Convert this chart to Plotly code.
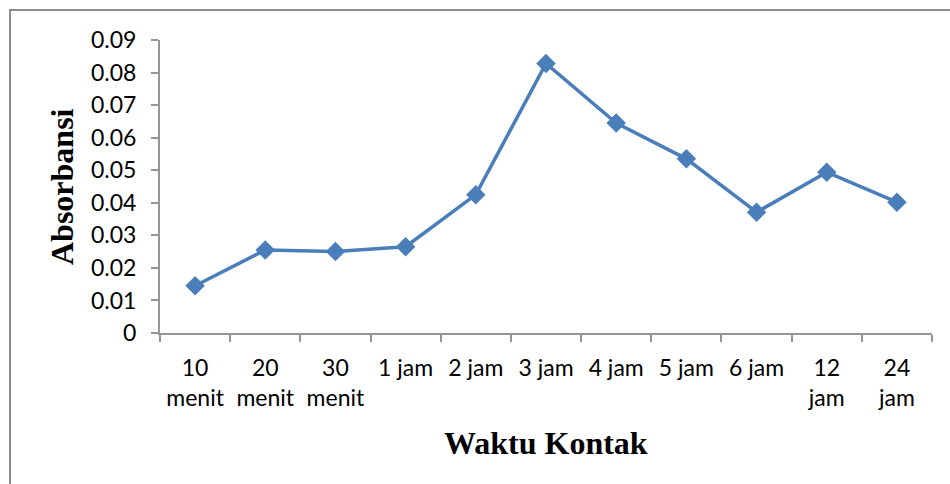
import plotly.graph_objects as go

# Contact-time categories (two-row labels) and measured absorbance
waktu_baris1 = ["10", "20", "30", "1 jam", "2 jam", "3 jam", "4 jam", "5 jam", "6 jam", "12", "24"]
waktu_baris2 = ["menit", "menit", "menit", "", "", "", "", "", "", "jam", "jam"]
absorbansi = [0.0145, 0.0255, 0.0250, 0.0265, 0.0425, 0.0828, 0.0645, 0.0535, 0.0371, 0.0494, 0.0402]

y_ticks = [0, 0.01, 0.02, 0.03, 0.04, 0.05, 0.06, 0.07, 0.08, 0.09]
y_labels = ["0", "0.01", "0.02", "0.03", "0.04", "0.05", "0.06", "0.07", "0.08", "0.09"]

W, H = 950, 484
ML, MR, MT, MB = 160, 18, 40, 151
PW, PH = W - ML - MR, H - MT - MB

line_blue = "#4A7EBB"
axis_grey = "#959595"
tick_font = dict(family="Lato, 'Open Sans', sans-serif", size=23, color="#000000")
title_font = dict(family="'Liberation Serif', 'Times New Roman', serif", size=32, color="#000000")

idx = list(range(len(waktu_baris1)))

fig = go.Figure()
fig.add_trace(go.Scatter(
    x=waktu_baris1, y=absorbansi, mode="lines+markers",
    line=dict(color=line_blue, width=3.5),
    marker=dict(symbol="diamond", size=15, color=line_blue),
    showlegend=False, hoverinfo="skip",
))
# carrier for the second row of category labels
fig.add_trace(go.Scatter(
    x=idx, y=absorbansi, xaxis="x2", mode="lines",
    line=dict(width=0), opacity=0, showlegend=False, hoverinfo="skip",
))

def px_to_paper_x(px):
    return (px - ML) / PW

def px_to_paper_y(py):
    return (H - MB - py) / PH

fig.update_layout(
    width=W, height=H,
    margin=dict(l=ML, r=MR, t=MT, b=MB, autoexpand=False),
    paper_bgcolor="white", plot_bgcolor="white",
    xaxis=dict(
        type="category", categoryorder="array", categoryarray=waktu_baris1,
        range=[-0.5, len(idx) - 0.5], tickson="boundaries",
        showline=True, linecolor=axis_grey, linewidth=2,
        showgrid=False, zeroline=False,
        ticks="outside", ticklen=7, tickcolor=axis_grey, tickwidth=2,
        ticklabelstandoff=13, tickfont=tick_font,
    ),
    xaxis2=dict(
        range=[-0.5, len(idx) - 0.5], tickmode="array",
        tickvals=idx, ticktext=waktu_baris2,
        overlaying="x", anchor="y", side="bottom",
        showline=False, showgrid=False, zeroline=False, ticks="",
        ticklabelstandoff=49, tickfont=tick_font,
    ),
    yaxis=dict(
        range=[0, 0.09], tickmode="array", tickvals=y_ticks, ticktext=y_labels,
        showline=True, linecolor=axis_grey, linewidth=2,
        showgrid=False, zeroline=False,
        ticks="outside", ticklen=7, tickcolor=axis_grey, tickwidth=2,
        ticklabelstandoff=10, tickfont=tick_font,
    ),
    shapes=[dict(
        type="rect", xref="paper", yref="paper",
        x0=px_to_paper_x(10), x1=px_to_paper_x(W + 20),
        y0=px_to_paper_y(H + 20), y1=px_to_paper_y(10),
        line=dict(color="#8C8C8C", width=2), fillcolor="rgba(0,0,0,0)",
        layer="below",
    )],
    annotations=[
        dict(text="<b>Waktu Kontak</b>", xref="paper", yref="paper",
             x=0.5, y=px_to_paper_y(443), xanchor="center", yanchor="middle",
             showarrow=False, font=title_font),
        dict(text="<b>Absorbansi</b>", xref="paper", yref="paper",
             x=px_to_paper_x(62), y=px_to_paper_y(187), xanchor="center", yanchor="middle",
             textangle=-90, showarrow=False, font=title_font),
    ],
)

fig.write_html("out.html")
